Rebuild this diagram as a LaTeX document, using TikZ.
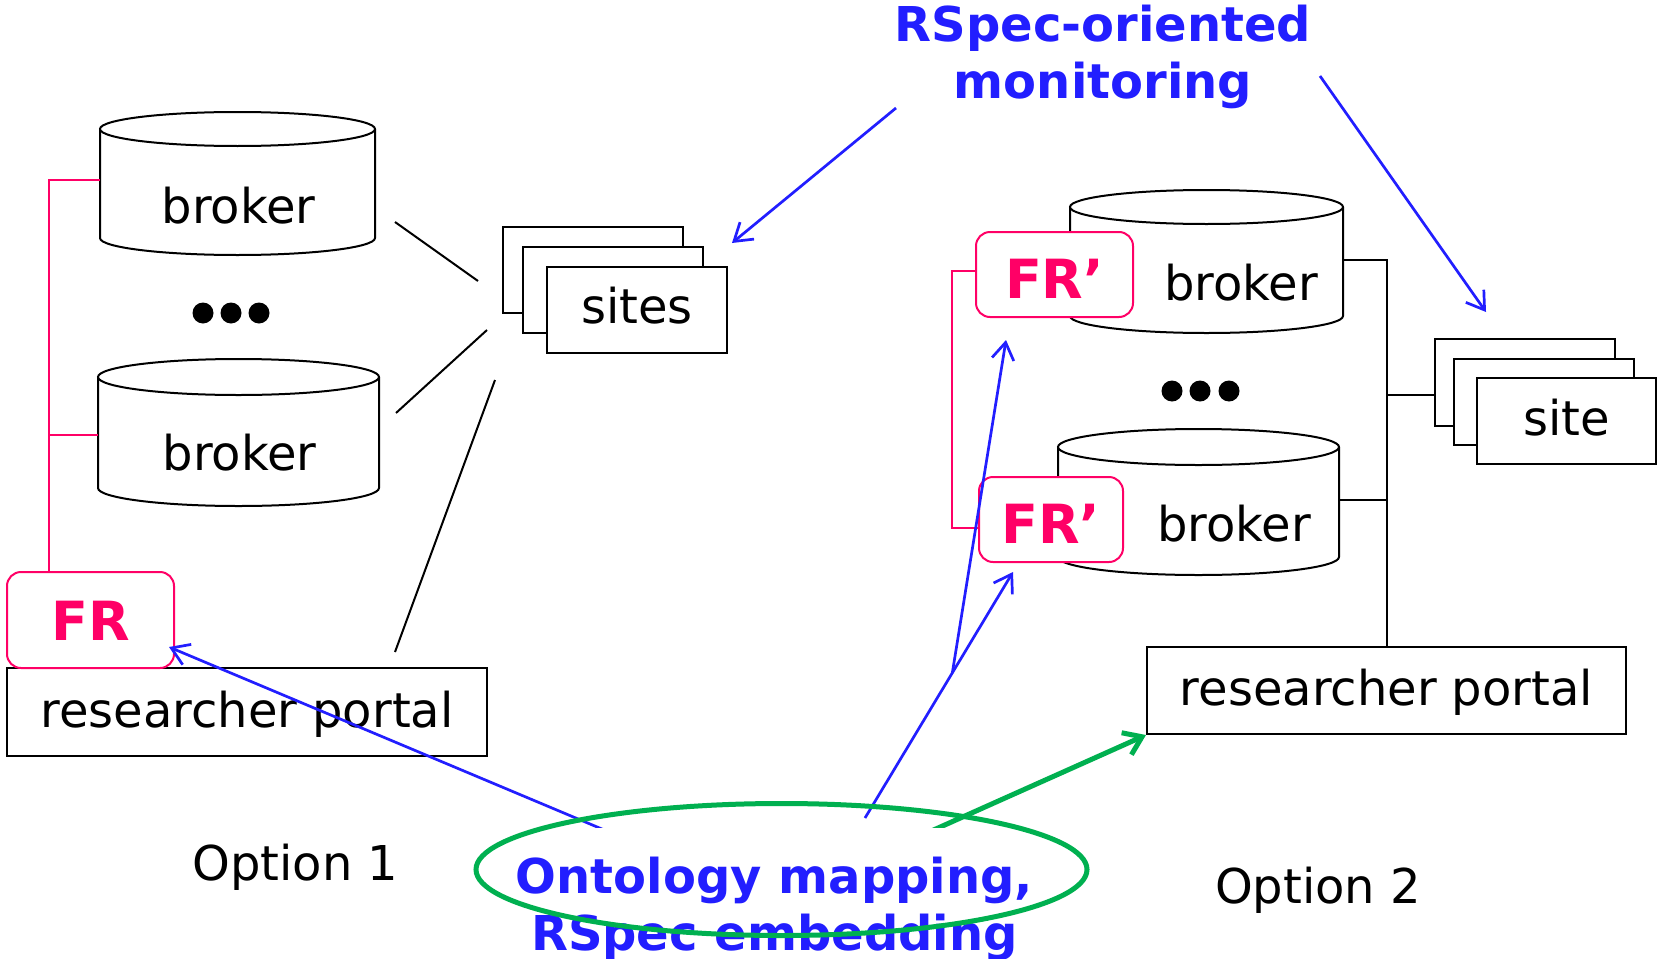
\documentclass[tikz,border=0pt]{standalone}
\usepackage{fontspec}
\setmainfont{DejaVu Sans}
\usetikzlibrary{arrows.meta,calc}
\definecolor{myblue}{RGB}{34,30,255}
\definecolor{mypink}{RGB}{255,0,102}
\definecolor{mygreen}{RGB}{0,176,80}
\newcommand{\cylbody}[5]{%
  \pgfmathsetmacro{\cylCX}{(#1+#2)/2}%
  \pgfmathsetmacro{\cylRX}{(#2-#1)/2}%
  \pgfmathsetmacro{\cylYA}{#3+#5}%
  \pgfmathsetmacro{\cylYB}{#4-#5}%
  \pgfmathsetmacro{\cylYC}{#4-#5+0.552*#5}%
  \pgfmathsetmacro{\cylXA}{\cylCX-0.552*\cylRX}%
  \pgfmathsetmacro{\cylXB}{\cylCX+0.552*\cylRX}%
  \fill[white] (#1,\cylYA) -- (#1,\cylYB) .. controls (#1,\cylYC) and (\cylXA,#4) .. (\cylCX,#4) .. controls (\cylXB,#4) and (#2,\cylYC) .. (#2,\cylYB) -- (#2,\cylYA) -- cycle;
  \draw[thinline] (#1,\cylYA) -- (#1,\cylYB) .. controls (#1,\cylYC) and (\cylXA,#4) .. (\cylCX,#4) .. controls (\cylXB,#4) and (#2,\cylYC) .. (#2,\cylYB) -- (#2,\cylYA);
  \filldraw[thinline,fill=white] (\cylCX,\cylYA) ellipse [x radius=\cylRX, y radius=#5];
}
\begin{document}
\begin{tikzpicture}[x=1pt,y=-1pt,
  thinline/.style={line width=2pt,black},
  big/.style={font=\fontsize{48}{57}\selectfont},
  txt/.style={big,inner sep=0pt,anchor=base},
  rectbox/.style={draw,line width=2pt,fill=white,inner sep=0pt,big,text depth=0pt},
  frbox/.style={draw=mypink,line width=2pt,fill=white,rounded corners=14pt,inner sep=0pt,
     text=mypink,font=\fontsize{54}{62}\selectfont\bfseries,text depth=0pt},
  pinkline/.style={draw=mypink,line width=2.5pt},
  bluearrow/.style={draw=myblue,line width=2.7pt,-{Straight Barb[length=17pt,width=22pt]}},
  greenarrow/.style={draw=mygreen,line width=5pt,-{Straight Barb[length=17pt,width=24pt]}},
  bluetxt/.style={font=\fontsize{48}{57}\selectfont\bfseries,text=myblue,inner sep=0pt,anchor=base},
  dot/.style={fill=black}
]
\useasboundingbox (0,0) rectangle (1659,958);
\clip (0,0) rectangle (1659,958);
\fill[white] (0,0) rectangle (1659,958);

% ---------- Option 1 ----------
\cylbody{100}{375}{112}{255}{17}
\node[txt] (brokA) at (238.5,223) {broker};
\cylbody{98}{379}{359}{506}{18}
\node[txt] (brokB) at (239.5,470) {broker};
\fill[dot] (203,313) circle (10.5) (231,313) circle (10.5) (259,313) circle (10.5);

\node[rectbox,minimum width=180pt,minimum height=86pt] (sl3) at (593,270) {};
\node[rectbox,minimum width=180pt,minimum height=86pt] (sl2) at (613,290) {};
\node[rectbox,minimum width=180pt,minimum height=86pt,text height=26pt] (sites) at (637,310) {sites};

\node[rectbox,minimum width=480pt,minimum height=88pt,text height=30pt] (portalL) at (247,712) {researcher portal};
\node[frbox,minimum width=167pt,minimum height=96pt,text height=40pt] (FR) at (90.5,620) {FR};

\coordinate (a1) at (100,180);
\coordinate (a2) at (98,435);
\draw[pinkline] (a1) -- (49,180) -- (FR.north -| 49,0);
\draw[pinkline] (a2) -- (49,435);

\coordinate (l1s) at (395,222); \coordinate (l1e) at (478,281);
\coordinate (l2s) at (396,413); \coordinate (l2e) at (487,330);
\coordinate (l3s) at (495,380); \coordinate (l3e) at (395,652);
\draw[thinline] (l1s) -- (l1e);
\draw[thinline] (l2s) -- (l2e);
\draw[thinline] (l3s) -- (l3e);

\node[txt] (opt1) at (295.5,880) {Option 1};

% ---------- Option 2 ----------
\cylbody{1070}{1343}{190}{333}{17}
\node[txt] (brokC) at (1241,300) {broker};
\cylbody{1058}{1339}{429}{575}{18}
\node[txt] (brokD) at (1234,541) {broker};
\fill[dot] (1172,391) circle (10.5) (1200,391) circle (10.5) (1229,391) circle (10.5);

\node[frbox,minimum width=157pt,minimum height=85pt,text height=47pt] (FRt) at (1054.5,274.5) {FR’};
\node[frbox,minimum width=144pt,minimum height=85pt,text height=47pt] (FRb) at (1051,519.5) {FR’};
\draw[pinkline] (976,271) -- (952,271) -- (952,528) -- (979,528);

\node[rectbox,minimum width=180pt,minimum height=87pt] (sr3) at (1525,382.5) {};
\node[rectbox,minimum width=180pt,minimum height=86pt] (sr2) at (1544,402) {};
\node[rectbox,minimum width=179pt,minimum height=86pt,text height=28pt] (site) at (1566.5,421) {site};

\node[rectbox,minimum width=479pt,minimum height=87pt,text height=29pt] (portalR) at (1386.5,690.5) {researcher portal};

\draw[thinline] (1343,260) -- (1387,260) -- (1387,647);
\draw[thinline] (1339,500) -- (1387,500);
\draw[thinline] (1387,395) -- (sr3.west |- 0,395);

\node[txt] (opt2) at (1318,903) {Option 2};

% ---------- monitoring labels ----------
\node[bluetxt] (mon1) at (1103,42) {RSpec-oriented};
\node[bluetxt] (mon2) at (1103,98) {monitoring};
\coordinate (m1s) at (896,108); \coordinate (m1e) at (732,243);
\coordinate (m2s) at (1320,76); \coordinate (m2e) at (1486,312);
\draw[bluearrow] (m1s) -- (m1e);
\draw[bluearrow] (m2s) -- (m2e);

% ---------- ontology arrows ----------
\coordinate (o1s) at (640,845); \coordinate (o1e) at (169,647);
\draw[bluearrow] (o1s) -- (o1e);
\coordinate (o2s) at (865,818); \coordinate (o2e) at (1013,572);
\coordinate (kink) at ($(o2s)!0.59!(o2e)$);
\coordinate (o3e) at (1006,340);
\draw[bluearrow] (o2s) -- (o2e);
\draw[bluearrow] (kink) -- (o3e);
\coordinate (gs) at (900,845);
\draw[greenarrow] (gs) -- (portalR.south west);

\node[fill=white,inner sep=0pt,minimum width=520pt,minimum height=140pt] (ontobg) at (775,898) {};
\node[bluetxt] (onto1) at (774.5,893) {Ontology mapping,};
\node[bluetxt] (onto2) at (774.5,950) {RSpec embedding};
\draw[mygreen,line width=5pt] (781.5,869.5) ellipse [x radius=305.5, y radius=66];
\end{tikzpicture}
\end{document}
